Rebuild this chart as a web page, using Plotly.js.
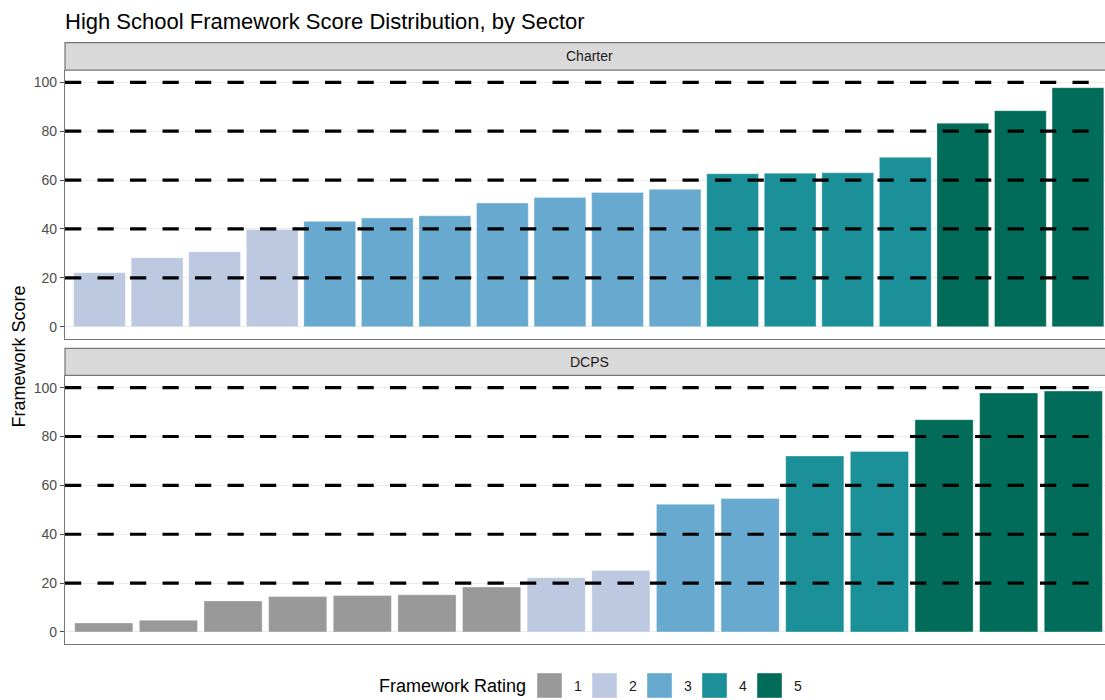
<!DOCTYPE html>
<html>
<head>
<meta charset="utf-8">
<script src="https://cdn.plot.ly/plotly-3.0.1.min.js"></script>
<style>
  html, body { margin: 0; padding: 0; background: #fff; }
  #chart { width: 1105px; height: 700px; }
</style>
</head>
<body>
<div id="chart"></div>
<script>
// ---- Data ----
const sectors = ['Charter', 'DCPS'];
const charterScores  = [22.1, 28.2, 30.7, 39.8, 43.1, 44.5, 45.4, 50.6, 52.9, 54.9, 56.2, 62.6, 62.8, 63.0, 69.3, 83.3, 88.4, 97.8];
const charterRatings = [2, 2, 2, 2, 3, 3, 3, 3, 3, 3, 3, 4, 4, 4, 4, 5, 5, 5];
const dcpsScores  = [3.7, 4.8, 12.7, 14.5, 14.9, 15.2, 18.4, 22.2, 25.2, 52.3, 54.6, 72.0, 73.9, 86.9, 97.8, 98.6];
const dcpsRatings = [1, 1, 1, 1, 1, 1, 1, 2, 2, 3, 3, 4, 4, 5, 5, 5];
const ratingLevels = [1, 2, 3, 4, 5];
const ratingColors = ['#999999', '#BDC9E1', '#67A9CF', '#1C9099', '#016C59'];
const refLines = [20, 40, 60, 80, 100];
const yTicks = [0, 20, 40, 60, 80, 100];

// ---- Geometry helpers (pixel -> paper, margins are 0 top/bottom) ----
const W = 1105, H = 700, L = 65;
const px = x => (x - L) / (W - L);
const py = y => 1 - y / H;

const panels = [
  {scores: charterScores, ratings: charterRatings, xa: 'x', ya: 'y',  top: 70.1,  bottom: 338.9, stripTop: 42.7},
  {scores: dcpsScores,    ratings: dcpsRatings,    xa: 'x2', ya: 'y2', top: 375.4, bottom: 644.2, stripTop: 348.3}
];

const traces = [];
panels.forEach(p => {
  ratingLevels.forEach((r, ri) => {
    const xs = [], ys = [];
    p.scores.forEach((s, i) => { if (p.ratings[i] === r) { xs.push(i + 1); ys.push(s); } });
    if (!xs.length) return;
    traces.push({
      type: 'bar', x: xs, y: ys, xaxis: p.xa, yaxis: p.ya,
      width: 0.9, name: String(r), showlegend: false,
      marker: {color: ratingColors[ri], line: {color: 'rgba(255,255,255,0.35)', width: 1}},
      hoverinfo: 'y'
    });
  });
});

const shapes = [];
const annotations = [];

panels.forEach((p, k) => {
  // strip
  shapes.push({type: 'rect', xref: 'paper', yref: 'paper', x0: 0, x1: 1.05,
    y0: py(p.top), y1: py(p.stripTop), fillcolor: '#D9D9D9',
    line: {color: '#767676', width: 1.2}, layer: 'above'});
  annotations.push({xref: 'paper', yref: 'paper', x: px(589), y: py((p.top + p.stripTop) / 2),
    text: sectors[k], showarrow: false, xanchor: 'center', yanchor: 'middle',
    font: {size: 14, color: '#1A1A1A'}});
  // dashed reference lines
  refLines.forEach(v => {
    shapes.push({type: 'line', xref: p.xa + ' domain', yref: p.ya, x0: 0, x1: 1, y0: v, y1: v,
      line: {color: '#000000', width: 3.2, dash: '16.25px,16.25px'}, layer: 'above'});
  });
});

// Legend (manual, ggplot-style keys)
annotations.push({xref: 'paper', yref: 'paper', x: px(377), y: py(686), text: 'Framework Rating',
  showarrow: false, xanchor: 'left', yanchor: 'middle', font: {size: 18, color: '#000000'}});
ratingLevels.forEach((r, i) => {
  const x0 = 537 + 55 * i;
  shapes.push({type: 'rect', xref: 'paper', yref: 'paper', x0: px(x0), x1: px(x0 + 25),
    y0: py(698), y1: py(673), fillcolor: ratingColors[i], line: {color: 'rgba(255,255,255,0.4)', width: 1}});
  annotations.push({xref: 'paper', yref: 'paper', x: px(x0 + 41), y: py(686), text: String(r),
    showarrow: false, xanchor: 'center', yanchor: 'middle', font: {size: 14, color: '#1A1A1A'}});
});

// Y axis title
annotations.push({xref: 'paper', yref: 'paper', x: px(18.5), y: py(357), text: 'Framework Score',
  textangle: -90, showarrow: false, xanchor: 'center', yanchor: 'middle', font: {size: 18, color: '#000000'}});

const yBase = {
  range: [-5, 105], tickvals: yTicks, ticktext: yTicks.map(String),
  ticks: 'outside', ticklen: 4, tickcolor: '#4D4D4D', tickwidth: 1,
  tickfont: {size: 14, color: '#4D4D4D'},
  showgrid: true, gridcolor: '#EBEBEB', gridwidth: 1.2, zeroline: false,
  showline: true, linecolor: '#767676', linewidth: 1.2, fixedrange: true
};
const xBase = {
  showticklabels: false, ticks: '', showgrid: false, zeroline: false,
  showline: true, linecolor: '#767676', linewidth: 1.2, fixedrange: true
};

const layout = {
  width: W, height: H,
  margin: {l: L, r: 0, t: 0, b: 0},
  paper_bgcolor: '#FFFFFF', plot_bgcolor: '#FFFFFF',
  font: {family: 'Liberation Sans, Arial, sans-serif', color: '#000000'},
  title: {text: 'High School Framework Score Distribution, by Sector',
    xref: 'container', yref: 'container', x: L / W, xanchor: 'left',
    y: py(21.6), yanchor: 'middle', font: {size: 22, color: '#000000'}},
  barmode: 'overlay',
  showlegend: false,
  xaxis:  Object.assign({}, xBase, {domain: [0, 1], anchor: 'y',  range: [0.4, 18.47]}),
  yaxis:  Object.assign({}, yBase, {domain: [py(panels[0].bottom), py(panels[0].top)], anchor: 'x'}),
  xaxis2: Object.assign({}, xBase, {domain: [0, 1], anchor: 'y2', range: [0.4, 16.49]}),
  yaxis2: Object.assign({}, yBase, {domain: [py(panels[1].bottom), py(panels[1].top)], anchor: 'x2'}),
  shapes: shapes,
  annotations: annotations
};

Plotly.newPlot('chart', traces, layout, {displayModeBar: false, responsive: false});
</script>
</body>
</html>
